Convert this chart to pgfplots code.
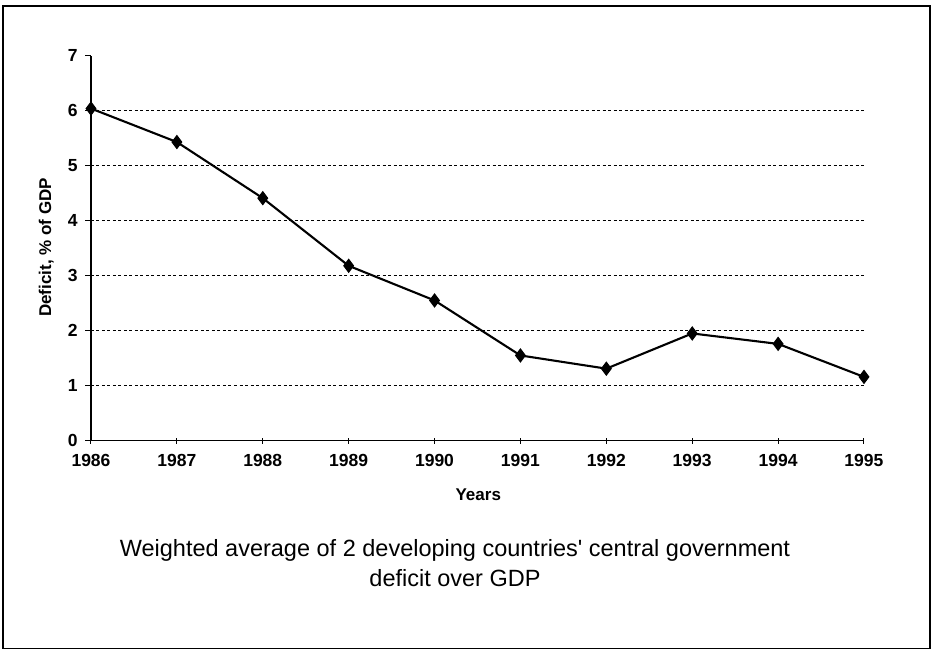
\documentclass[border=0pt]{standalone}
\usepackage{fontspec}
\setmainfont{Liberation Sans}
\usepackage{pgfplots}
\pgfplotsset{compat=1.18}
\begin{document}
\begin{tikzpicture}
\begin{axis}[
  at={(0,0)}, anchor=south west,
  scale only axis, width=773pt, height=385pt,
  xmin=1986, xmax=1995, ymin=0, ymax=7,
  axis x line=bottom, axis y line=left,
  axis line style={-, line width=1.5pt},
  xtick={1986,1987,...,1995}, ytick={0,1,...,7},
  extra y ticks={1,2,...,6},
  extra y tick labels={},
  extra y tick style={grid=major, major tick length=0pt},
  major grid style={black, line width=1pt, dash pattern=on 3pt off 2.5pt},
  tick align=outside, major tick length=6pt,
  tick style={black, line width=1pt},
  xtick style={yshift=3pt},
  /pgf/number format/assume math mode=true,
  /pgf/number format/1000 sep={},
  ticklabel style={font=\fontsize{17.5}{20}\selectfont\bfseries},
  yticklabel style={xshift=-4pt},
  xticklabel style={yshift=-4pt},
  xlabel={Years},
  xlabel style={font=\fontsize{17}{20}\selectfont\bfseries, at={(axis description cs:0.501,-0.14)}, anchor=center},
  ylabel={Deficit, \% of GDP},
  ylabel style={font=\fontsize{17}{20}\selectfont\bfseries, at={(axis description cs:-0.058,0.502)}, anchor=center},
  clip=false,
]
\addplot[black, line width=2.1pt, mark=diamond*, mark size=6.5pt, mark options={solid, fill=black, line width=1pt}]
  coordinates {
    (1986,6.04) (1987,5.43) (1988,4.41) (1989,3.18) (1990,2.55)
    (1991,1.55) (1992,1.31) (1993,1.95) (1994,1.76) (1995,1.16)
  };
\end{axis}
\draw[line width=1.3pt] ([shift={(-88pt,-208pt)}]current axis.south west) rectangle ([shift={(839pt,434.7pt)}]current axis.south west);
\node[anchor=base, font=\fontsize{23.5}{30}\selectfont] at ([shift={(364pt,-116pt)}]current axis.south west) {Weighted average of 2 developing countries\textquotesingle{} central government};
\node[anchor=base, font=\fontsize{23.5}{30}\selectfont] at ([shift={(364pt,-146pt)}]current axis.south west) {deficit over GDP};
\path ([shift={(-91pt,-212.3pt)}]current axis.south west) rectangle ([shift={(844pt,440.7pt)}]current axis.south west);
\end{tikzpicture}
\end{document}
